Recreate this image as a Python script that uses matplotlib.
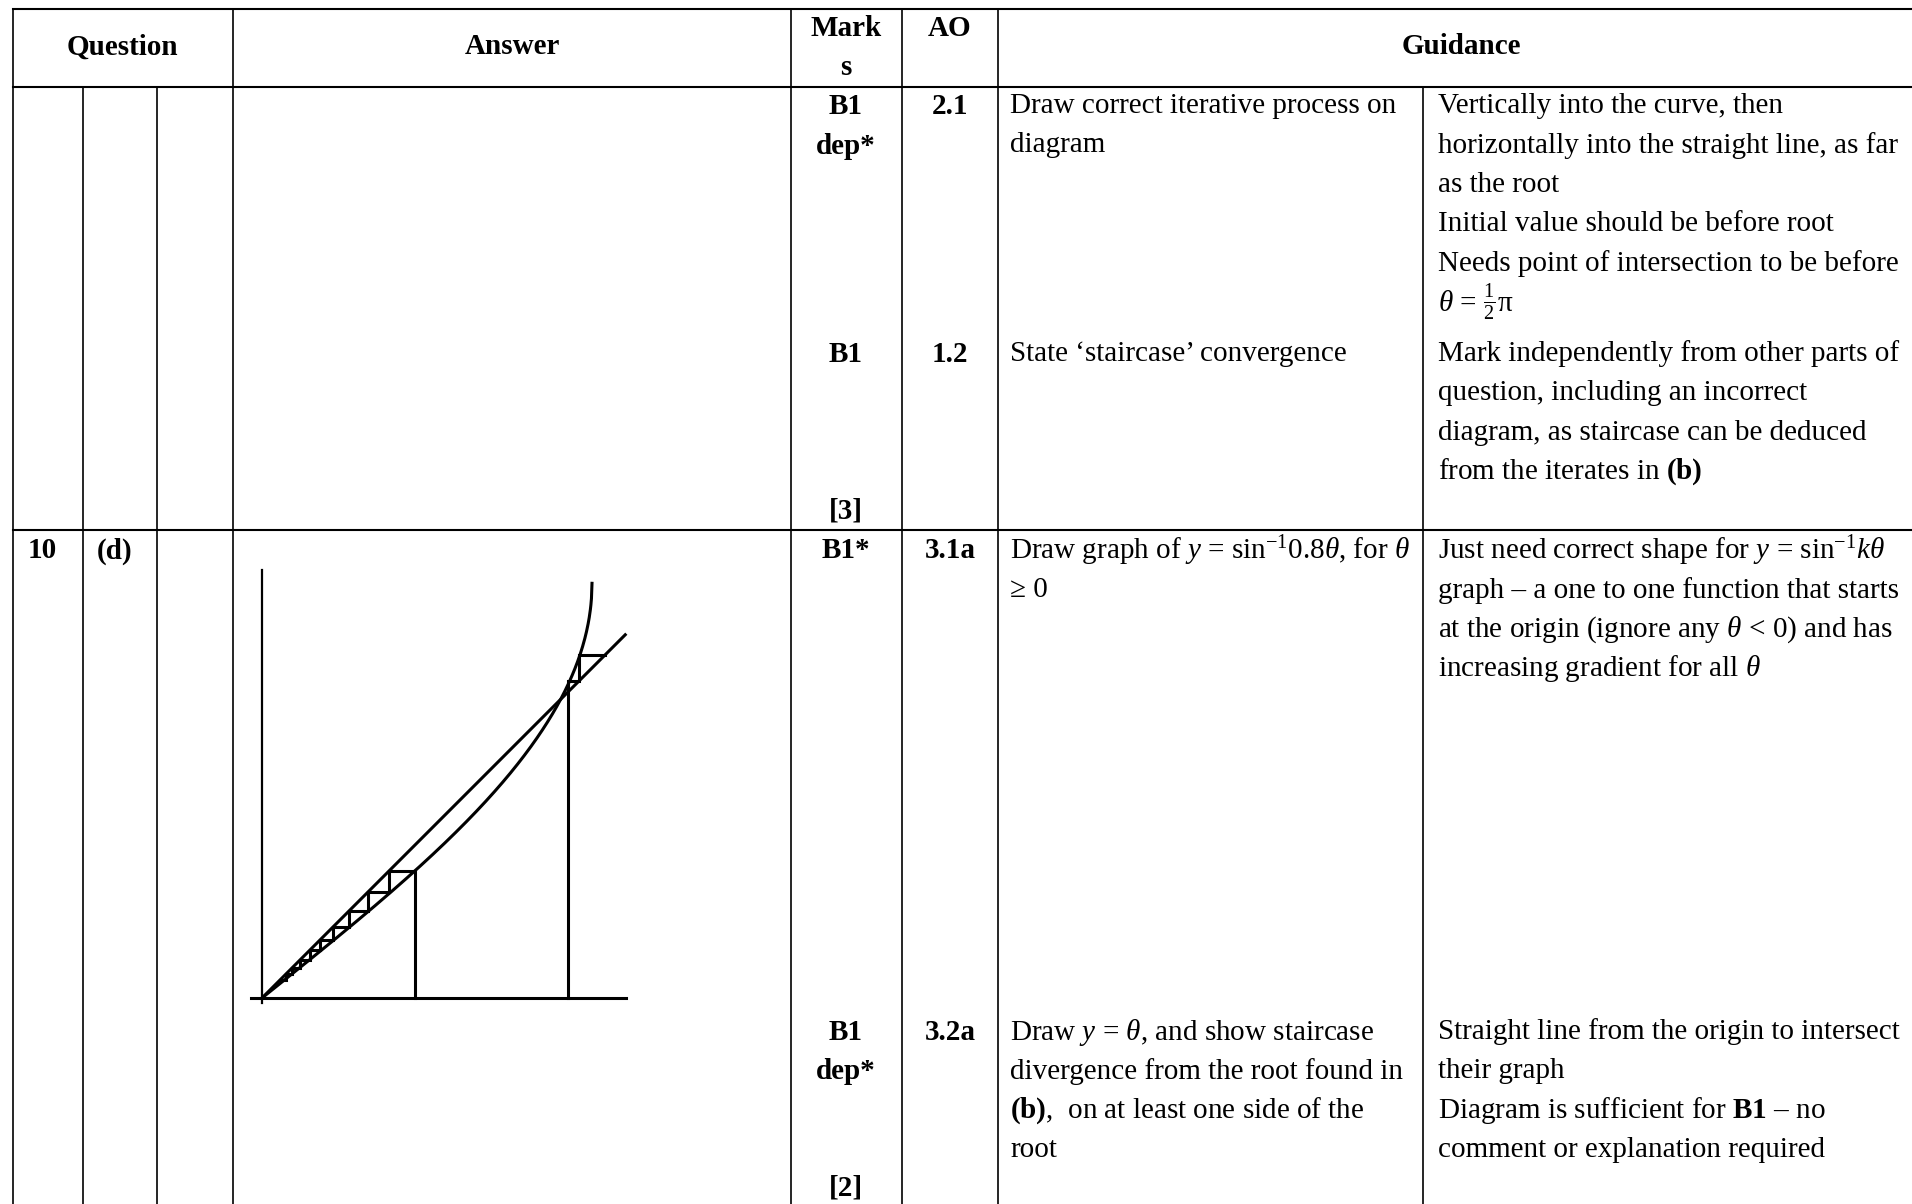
import numpy as np
import matplotlib.pyplot as plt

plt.rcParams['font.family'] = ['Liberation Serif', 'DejaVu Serif']
plt.rcParams['mathtext.fontset'] = 'custom'
plt.rcParams['mathtext.rm'] = 'Liberation Serif'
plt.rcParams['mathtext.it'] = 'Liberation Serif:italic'
plt.rcParams['mathtext.bf'] = 'Liberation Serif:bold'

# table text
headers = ['Question', 'Answer', 'Mark', 's', 'AO', 'Guidance']

row1_marks = [['B1', 'dep*'], ['B1'], ['[3]']]
row1_ao = ['2.1', '1.2']
row1_comment = [['Draw correct iterative process on', 'diagram'],
                ['State \u2018staircase\u2019 convergence']]
row1_guidance = [['Vertically into the curve, then',
                  'horizontally into the straight line, as far',
                  'as the root',
                  'Initial value should be before root',
                  'Needs point of intersection to be before',
                  r'$\mathit{\theta}$ = $\frac{1}{2}$' + '\u03c0'],
                 ['Mark independently from other parts of',
                  'question, including an incorrect',
                  'diagram, as staircase can be deduced',
                  r'from the iterates in $\mathbf{(b)}$']]

row2_question = ['10', '(d)']
row2_marks = [['B1*'], ['B1', 'dep*'], ['[2]']]
row2_ao = ['3.1a', '3.2a']
row2_comment = [[r'Draw graph of $\mathit{y}$ = sin$^{\mathrm{-1}}$0.8$\mathit{\theta}$, for $\mathit{\theta}$',
                 '\u2265 0'],
                [r'Draw $\mathit{y}$ = $\mathit{\theta}$, and show staircase',
                 'divergence from the root found in',
                 r'$\mathbf{(b)}$,  on at least one side of the',
                 'root']]
row2_guidance = [[r'Just need correct shape for $\mathit{y}$ = sin$^{\mathrm{-1}}$$\mathit{k\theta}$',
                  'graph \u2013 a one to one function that starts',
                  r'at the origin (ignore any $\mathit{\theta}$ < 0) and has',
                  r'increasing gradient for all $\mathit{\theta}$'],
                 ['Straight line from the origin to intersect',
                  'their graph',
                  r'Diagram is sufficient for $\mathbf{B1}$ ' + '\u2013 no',
                  'comment or explanation required']]

# diagram: y = sin^-1(k theta) and y = theta, with staircases
k = 0.8
theta_end = 1.38
left_iterates = [0.58, 0.48, 0.40, 0.33, 0.27, 0.22, 0.18, 0.145, 0.115, 0.09, 0.07]
right_iterates = [1.16, 1.20, 1.30]

W, H = 1912, 1204
fig = plt.figure(figsize=(W / 100, H / 100), dpi=100)
ax = fig.add_axes([0, 0, 1, 1])
ax.set_xlim(0, W)
ax.set_ylim(H, 0)
ax.axis('off')

fs = 21
hlw = 1.5
vlw = 1.2
lh = 39.3

# grid lines
ax.plot([13, W], [9, 9], color='black', lw=hlw)
ax.plot([13, W], [87, 87], color='black', lw=hlw)
ax.plot([13, W], [530, 530], color='black', lw=hlw)
for x in [13, 233, 791, 902, 998]:
    ax.plot([x, x], [9, H], color='black', lw=vlw)
for x in [83, 157]:
    ax.plot([x, x], [87, H], color='black', lw=vlw)
ax.plot([1423, 1423], [87, H], color='black', lw=vlw)


def lines(x, y0, items, **kw):
    for i, s in enumerate(items):
        ax.text(x, y0 + i * lh, s, fontsize=fs, va='center', **kw)


# header
lines(122, 47, [headers[0]], ha='center', fontweight='bold')
lines(512, 47, [headers[1]], ha='center', fontweight='bold')
lines(846, 28, [headers[2], headers[3]], ha='center', fontweight='bold')
lines(950, 28, [headers[4]], ha='center', fontweight='bold')
lines(1461, 47, [headers[5]], ha='center', fontweight='bold')

# row 1
lines(846, 107, row1_marks[0], ha='center', fontweight='bold')
lines(846, 354, row1_marks[1], ha='center', fontweight='bold')
lines(846, 511, row1_marks[2], ha='center', fontweight='bold')
lines(950, 107, [row1_ao[0]], ha='center', fontweight='bold')
lines(950, 354, [row1_ao[1]], ha='center', fontweight='bold')
lines(1010, 106, row1_comment[0], ha='left')
lines(1010, 354, row1_comment[1], ha='left')
lines(1438, 106, row1_guidance[0], ha='left')
lines(1438, 354, row1_guidance[1], ha='left')

# row 2
lines(28, 551, [row2_question[0]], ha='left', fontweight='bold')
lines(115, 551, [row2_question[1]], ha='center', fontweight='bold')
lines(846, 551, row2_marks[0], ha='center', fontweight='bold')
lines(846, 1032, row2_marks[1], ha='center', fontweight='bold')
lines(846, 1188, row2_marks[2], ha='center', fontweight='bold')
lines(950, 551, [row2_ao[0]], ha='center', fontweight='bold')
lines(950, 1032, [row2_ao[1]], ha='center', fontweight='bold')
lines(1010, 551, row2_comment[0], ha='left')
lines(1010, 1032, row2_comment[1], ha='left')
lines(1438, 551, row2_guidance[0], ha='left')
lines(1438, 1032, row2_guidance[1], ha='left')

# inset diagram, equal scale 264 px per unit, origin at (262, 998)
s = 264.0
ox, oy = 262.0, 998.0
xl = (-0.05, 1.45)
yl = (-0.05, 1.7)
left = (ox + xl[0] * s) / W
bottom = (H - (oy - yl[0] * s)) / H
dax = fig.add_axes([left, bottom, (xl[1] - xl[0]) * s / W, (yl[1] - yl[0]) * s / H])
dax.set_xlim(*xl)
dax.set_ylim(*yl)
dax.axis('off')

dlw = 2.2
dax.plot([0, 0], [-0.02, 1.62], color='black', lw=1.6)
dax.plot([-0.04, theta_end], [0, 0], color='black', lw=dlw)
dax.plot([0, theta_end], [0, theta_end], color='black', lw=dlw, solid_capstyle='butt')
th = np.linspace(0, 1 / k, 600)
dax.plot(th, np.arcsin(k * th), color='black', lw=dlw)


def staircase(its):
    xs, ys = [its[0]], [0]
    for i in range(len(its) - 1):
        xs += [its[i], its[i + 1]]
        ys += [its[i + 1], its[i + 1]]
    return xs, ys


for its in [left_iterates, right_iterates]:
    xs, ys = staircase(its)
    dax.plot(xs, ys, color='black', lw=dlw, solid_joinstyle='miter')

fig.savefig('out.png', dpi=100)
